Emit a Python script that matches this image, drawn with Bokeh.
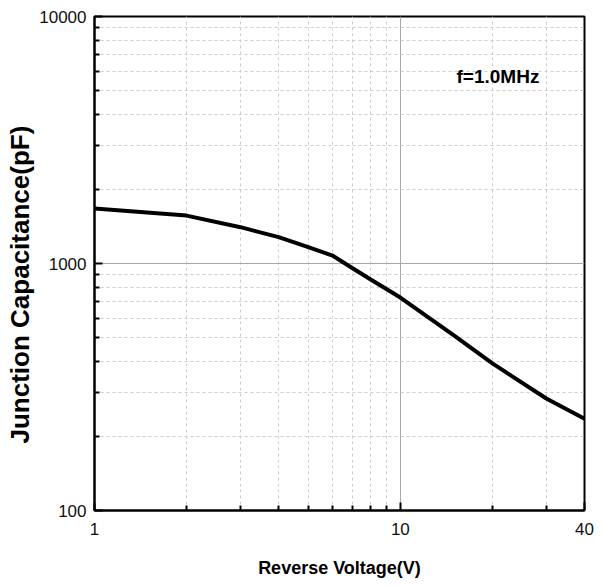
from bokeh.plotting import figure
from bokeh.models import FixedTicker, Label, Range1d, Title
from bokeh.embed import file_html
from bokeh.resources import INLINE

voltage = [1, 2, 3, 4, 5, 6, 7, 8, 10, 15, 20, 30, 40]
capacitance = [1670, 1563, 1403, 1278, 1165, 1077, 955, 861, 728, 511, 394, 284, 235]

x_major = [1, 10, 40]
x_minor = [2, 3, 4, 5, 6, 7, 8, 9, 20, 30]
y_major = [100, 1000, 10000]
y_minor = [200, 300, 400, 500, 600, 700, 800, 900,
           2000, 3000, 4000, 5000, 6000, 7000, 8000, 9000]

FONT = "Liberation Sans"

p = figure(x_axis_type="log", y_axis_type="log",
           x_range=Range1d(1, 40), y_range=Range1d(100, 10000),
           frame_width=490, frame_height=494,
           min_border_left=93, min_border_right=14, min_border_top=16, min_border_bottom=60,
           output_backend="svg", toolbar_location=None,
           background_fill_color="white", border_fill_color="white")

p.outline_line_color = "black"
p.outline_line_width = 2

p.xaxis.ticker = FixedTicker(ticks=x_major, minor_ticks=x_minor)
p.yaxis.ticker = FixedTicker(ticks=y_major, minor_ticks=y_minor)
p.xaxis.major_label_overrides = {1: "1", 10: "10", 40: "40"}
p.yaxis.major_label_overrides = {100: "100", 1000: "1000", 10000: "10000"}

for ax in (p.xaxis, p.yaxis):
    ax.axis_line_color = "black"
    ax.axis_line_width = 2
    ax.major_tick_in = 8
    ax.major_tick_out = 0
    ax.minor_tick_in = 5
    ax.minor_tick_out = 0
    ax.major_tick_line_width = 2
    ax.minor_tick_line_width = 2
    ax.major_tick_line_color = "black"
    ax.minor_tick_line_color = "black"
    ax.major_label_text_font = FONT
    ax.major_label_text_font_size = "17px"
    ax.major_label_text_color = "#111111"
    ax.axis_label_text_font = FONT
    ax.axis_label_text_font_style = "bold"
    ax.axis_label_text_color = "black"

p.xaxis.major_label_standoff = 12
p.yaxis.major_label_standoff = 8

p.xaxis.axis_label = "Reverse Voltage(V)"
p.xaxis.axis_label_text_font_size = "18px"
p.xaxis.axis_label_standoff = 20

ytitle = Title(text="Junction Capacitance(pF)", align="left", offset=67,
               text_font=FONT, text_font_style="bold", text_font_size="26px",
               text_color="black", standoff=4)
p.add_layout(ytitle, "left")

for g in (p.xgrid, p.ygrid):
    g.grid_line_color = "#a8a8a8"
    g.grid_line_width = 1
    g.minor_grid_line_color = "#cccccc"
    g.minor_grid_line_dash = "3 3"
    g.minor_grid_line_width = 1

p.line(voltage, capacitance, line_color="black", line_width=4)

p.add_layout(Label(x=15.26, y=5741, text="f=1.0MHz", text_font=FONT,
                   text_font_style="bold", text_font_size="19px",
                   text_baseline="middle", text_align="left", text_color="black"))

open("out.html", "w").write(file_html(p, INLINE))
